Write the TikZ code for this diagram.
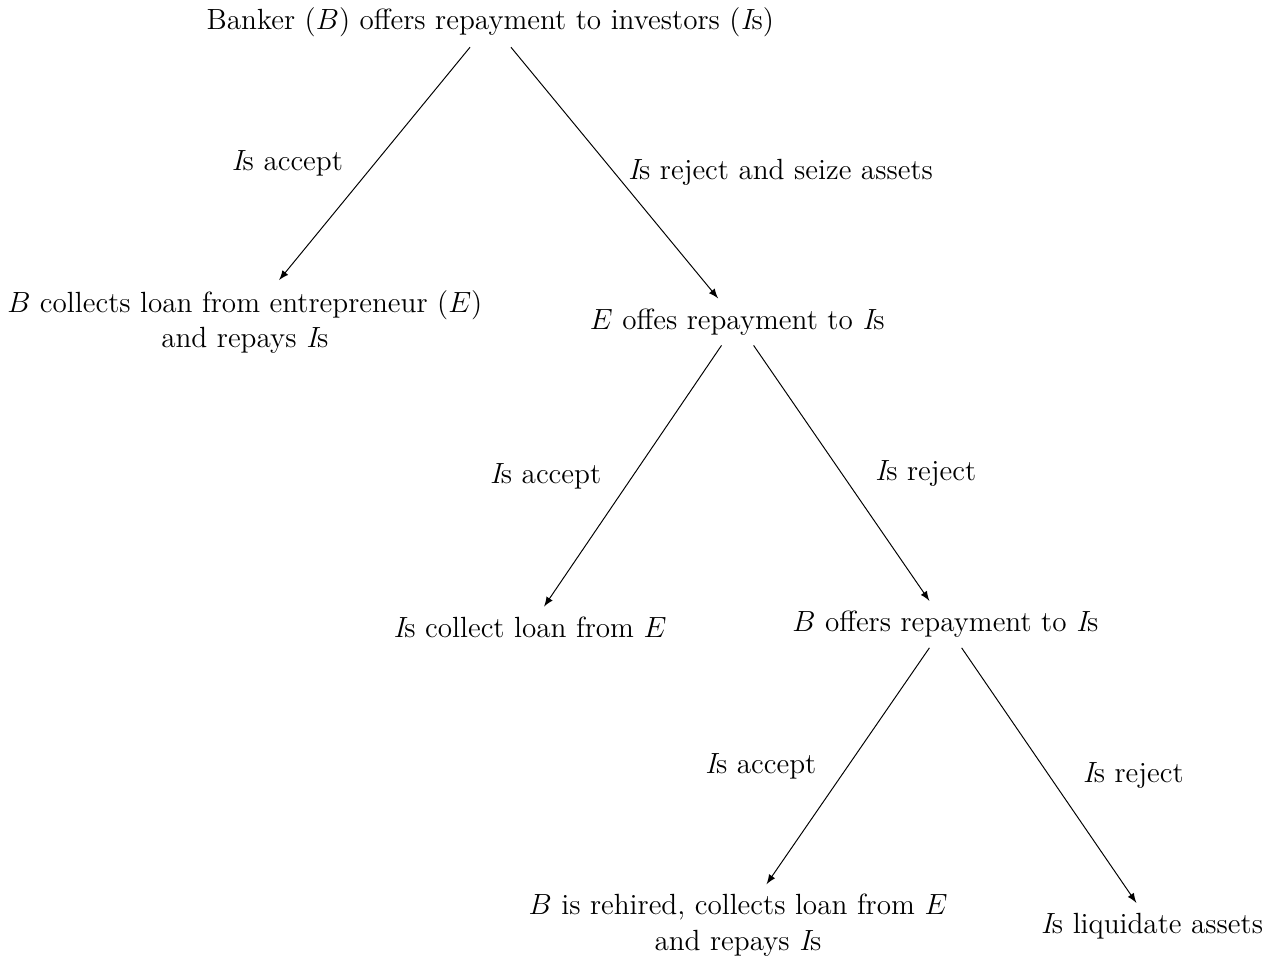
\documentclass[tikz,border=0pt,12pt]{standalone}
\usepackage{amsmath,amssymb}
\usepackage{tikz}
\usetikzlibrary{arrows,positioning}
\newcommand{\Inv}{{\itshape I}}
\tikzset{
        stage/.style={
                text centered,
                align=center
            },
        move/.style={
                ->,
                >=latex,
                thin
            },
        choice/.style={
                midway,
                inner sep=2pt
            },
}

\begin{document}
\begin{tikzpicture}[scale=1.04]
  \useasboundingbox (0,0) rectangle (17.75,-13.36);
  % Stages
  \node[stage] (banker) at (6.81,-0.31) {Banker ($B$) offers repayment to investors (\Inv s)};
  \node[stage] (collect) at (3.40,-4.47) {$B$ collects loan from entrepreneur ($E$)\\ and repays \Inv s};
  \node[stage] (entre) at (10.24,-4.47) {$E$ offes repayment to \Inv s};
  \node[stage] (direct) at (7.36,-8.71) {\Inv s collect loan from $E$};
  \node[stage] (again) at (13.13,-8.67) {$B$ offers repayment to \Inv s};
  \node[stage] (rehire) at (10.25,-12.85) {$B$ is rehired, collects loan from $E$\\ and repays \Inv s};
  \node[stage] (liquid) at (16.0,-12.86) {\Inv s liquidate assets};
  % Moves
  \draw[move] (banker) -- node[choice,left=3.8mm]{\Inv s accept} (collect);
  \draw[move] (banker) -- node[choice,right=1.2mm]{\Inv s reject and seize assets} (entre);
  \draw[move] (entre) -- node[choice,left=3.8mm]{\Inv s accept} (direct);
  \draw[move] (entre) -- node[choice,right=4.1mm]{\Inv s reject} (again);
  \draw[move] (again) -- node[choice,left=3.8mm]{\Inv s accept} (rehire);
  \draw[move] (again) -- node[choice,right=4.1mm]{\Inv s reject} (liquid);
\end{tikzpicture}
\end{document}
